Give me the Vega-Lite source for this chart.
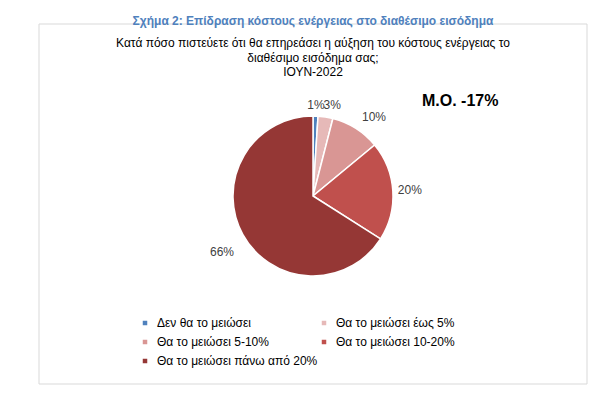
{
  "$schema": "https://vega.github.io/schema/vega-lite/v6.json",
  "width": 548,
  "height": 360,
  "autosize": "none",
  "padding": {"left": 39, "top": 24, "right": 29, "bottom": 12},
  "background": "white",
  "title": {
    "text": "Σχήμα 2: Επίδραση κόστους ενέργειας στο διαθέσιμο εισόδημα",
    "subtitle": ["Κατά πόσο πιστεύετε ότι θα επηρεάσει η αύξηση του κόστους ενέργειας το", "διαθέσιμο εισόδημα σας;", "ΙΟΥΝ-2022"],
    "anchor": "middle",
    "offset": -55.5,
    "font": "Liberation Sans",
    "fontSize": 12,
    "fontWeight": "bold",
    "color": "#4F81BD",
    "subtitleFont": "Liberation Sans",
    "subtitleFontSize": 12,
    "subtitleColor": "#000000",
    "subtitleLineHeight": 14.5,
    "subtitlePadding": 10
  },
  "config": {"view": {"stroke": null}},
  "layer": [
    {
      "data": {"values": [{"box": 1}]},
      "mark": {"type": "rect", "fill": "transparent", "stroke": "#D9D9D9", "strokeWidth": 1},
      "encoding": {}
    },
    {
      "data": {"name": "pie", "values": [
        {"category": "Δεν θα το μειώσει", "value": 1, "label": "1%", "order": 1},
        {"category": "Θα το μειώσει έως 5%", "value": 3, "label": "3%", "order": 2},
        {"category": "Θα το μειώσει 5-10%", "value": 10, "label": "10%", "order": 3},
        {"category": "Θα το μειώσει 10-20%", "value": 20, "label": "20%", "order": 4},
        {"category": "Θα το μειώσει πάνω από 20%", "value": 66, "label": "66%", "order": 5}
      ]},
      "mark": {"type": "arc", "outerRadius": 80, "stroke": "white", "strokeWidth": 1.5, "yOffset": -8},
      "encoding": {
        "theta": {"field": "value", "type": "quantitative", "stack": true},
        "order": {"field": "order", "type": "quantitative"},
        "color": {
          "field": "category", "type": "nominal",
          "scale": {
            "domain": ["Δεν θα το μειώσει", "Θα το μειώσει έως 5%", "Θα το μειώσει 5-10%", "Θα το μειώσει 10-20%", "Θα το μειώσει πάνω από 20%"],
            "range": ["#4F81BD", "#E6B9B8", "#D99694", "#C0504D", "#953735"]
          },
          "legend": {
            "orient": "none", "legendX": 100, "legendY": 293, "columns": 2, "direction": "horizontal", "title": null,
            "symbolType": "square", "symbolSize": 36, "labelFont": "Liberation Sans", "labelFontSize": 12,
            "labelColor": "#000000", "rowPadding": 7, "columnPadding": 0, "labelLimit": 300, "labelOffset": 6
          }
        }
      }
    },
    {
      "data": {"name": "pie"},
      "mark": {"type": "text", "radius": 97, "yOffset": -8, "font": "Liberation Sans", "fontSize": 12, "color": "#404040",
        "dx": {"expr": "datum.value == 3 ? 4 : datum.value == 10 ? 9 : datum.value == 66 ? -6 : 0"},
        "dy": {"expr": "datum.value == 1 ? 6 : datum.value == 3 ? 5 : datum.value == 10 ? 3 : datum.value == 66 ? 9 : 0"}},
      "encoding": {
        "theta": {"field": "value", "type": "quantitative", "stack": true},
        "order": {"field": "order", "type": "quantitative"},
        "text": {"field": "label", "type": "nominal"}
      }
    },
    {
      "data": {"values": [{"note": "Μ.Ο. -17%"}]},
      "mark": {"type": "text", "radius": 175, "theta": 0.9995, "yOffset": -8, "font": "Liberation Sans", "fontSize": 16, "fontWeight": "bold", "color": "#000000"},
      "encoding": {"text": {"field": "note", "type": "nominal"}}
    }
  ]
}
